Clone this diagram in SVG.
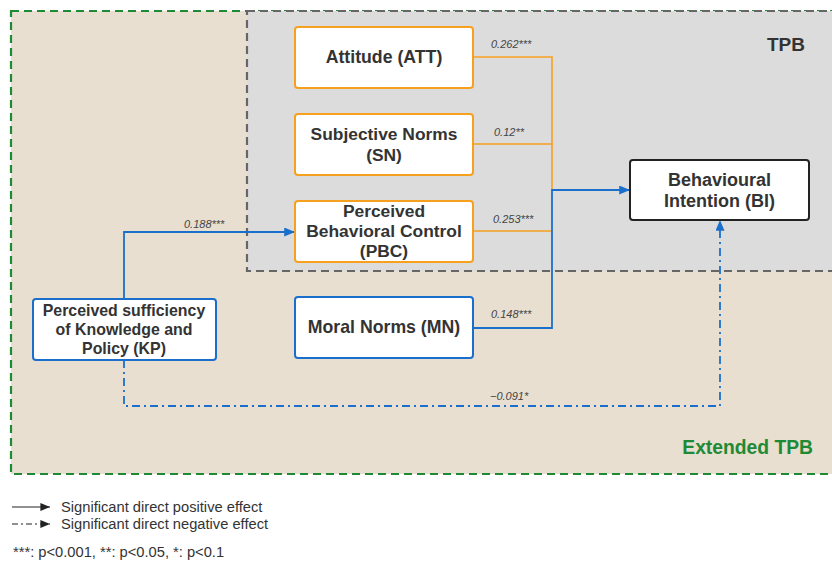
<svg xmlns="http://www.w3.org/2000/svg" width="832" height="563" viewBox="0 0 832 563">
<style>
.node{fill:#fff;stroke-width:2}
.o{stroke:#f7a020}
.b{stroke:#1a6fcc}
.k{stroke:#222}
.nt{font-family:"Liberation Sans",Arial,sans-serif;font-weight:bold;font-size:17.4px;fill:#333;text-anchor:middle}
.one{font-size:17.7px}
.kp{font-size:15.9px}
.bi{font-size:18px}
.lab{font-family:"Liberation Sans",Arial,sans-serif;font-style:italic;font-size:11px;fill:#444}
.leg{font-family:"Liberation Sans",Arial,sans-serif;font-size:14.7px;fill:#333}
.oc{fill:none;stroke:#f7a020;stroke-width:1.6}
.bc{fill:none;stroke:#1a6fcc;stroke-width:1.8}
</style>
<defs>
<marker id="ab" viewBox="0 0 12 10" refX="12" refY="5" markerWidth="12" markerHeight="9" orient="auto" markerUnits="userSpaceOnUse"><path d="M0,0 L12,5 L0,10 z" fill="#1a6fcc"/></marker>
<marker id="abk" viewBox="0 0 12 10" refX="12" refY="5" markerWidth="11" markerHeight="8" orient="auto" markerUnits="userSpaceOnUse"><path d="M0,0 L12,5 L0,10 z" fill="#222"/></marker>
</defs>
<rect width="832" height="563" fill="#fff"/>
<rect x="11" y="11" width="840" height="463" fill="#e8dfd0" stroke="#1e8a35" stroke-width="2.2" stroke-dasharray="8,5"/>
<rect x="247" y="11" width="600" height="260" fill="#dcdcdc" stroke="#666" stroke-width="2.2" stroke-dasharray="8,5"/>
<text x="805" y="51" font-family="Liberation Sans,Arial,sans-serif" font-weight="bold" font-size="19" fill="#333" text-anchor="end">TPB</text>
<text x="813" y="454" font-family="Liberation Sans,Arial,sans-serif" font-weight="bold" font-size="19.3" fill="#1e8a35" text-anchor="end">Extended TPB</text>
<g id="connectors">
<path class="oc" d="M473,57 H552 V190"/>
<path class="oc" d="M473,144 H552"/>
<path class="oc" d="M473,231 H552"/>
<path class="bc" d="M473,328 H552 V190 H630" marker-end="url(#ab)"/>
<path class="bc" d="M124,299 V232 H295" marker-end="url(#ab)"/>
<path class="bc" d="M124,360 V406 H720 V220" stroke-dasharray="8,4,2,4" marker-end="url(#ab)"/>
<text class="lab" x="491" y="48">0.262***</text>
<text class="lab" x="494" y="136">0.12**</text>
<text class="lab" x="493" y="223">0.253***</text>
<text class="lab" x="491" y="318">0.148***</text>
<text class="lab" x="184" y="228">0.188***</text>
<text class="lab" x="490" y="400">−0.091*</text>
</g>
<g id="ATT"><rect class="node o" x="295" y="27" width="178" height="61" rx="3"/><text class="nt one" x="384" y="63">Attitude (ATT)</text></g>
<g id="SN"><rect class="node o" x="295" y="114" width="178" height="61" rx="3"/><text class="nt"><tspan x="384" y="140">Subjective Norms</tspan><tspan x="384" y="161">(SN)</tspan></text></g>
<g id="PBC"><rect class="node o" x="295" y="201" width="178" height="61" rx="3"/><text class="nt"><tspan x="384" y="216.8">Perceived</tspan><tspan x="384" y="237">Behavioral Control</tspan><tspan x="384" y="257.2">(PBC)</tspan></text></g>
<g id="MN"><rect class="node b" x="295" y="297" width="178" height="61" rx="3"/><text class="nt one" x="384" y="333">Moral Norms (MN)</text></g>
<g id="KP"><rect class="node b" x="33" y="299" width="183" height="61" rx="3"/><text class="nt kp"><tspan x="124" y="316">Perceived sufficiency</tspan><tspan x="124" y="335">of Knowledge and</tspan><tspan x="124" y="354">Policy (KP)</tspan></text></g>
<g id="BI"><rect class="node k" x="630" y="160" width="179" height="60" rx="3"/><text class="nt bi"><tspan x="719.500" y="186">Behavioural</tspan><tspan x="719.500" y="207">Intention (BI)</tspan></text></g>
<g id="legend">
<path d="M12,507 H50" stroke="#222" stroke-width="1.2" marker-end="url(#abk)"/>
<path d="M12,524 H50" stroke="#222" stroke-width="1.2" stroke-dasharray="6,3,2,3" marker-end="url(#abk)"/>
<text class="leg"><tspan x="61" y="512">Significant direct positive effect</tspan><tspan x="61" y="529">Significant direct negative effect</tspan></text>
<text class="leg" x="13" y="557" font-size="14.9">***: p&lt;0.001, **: p&lt;0.05, *: p&lt;0.1</text>
</g>
</svg>
